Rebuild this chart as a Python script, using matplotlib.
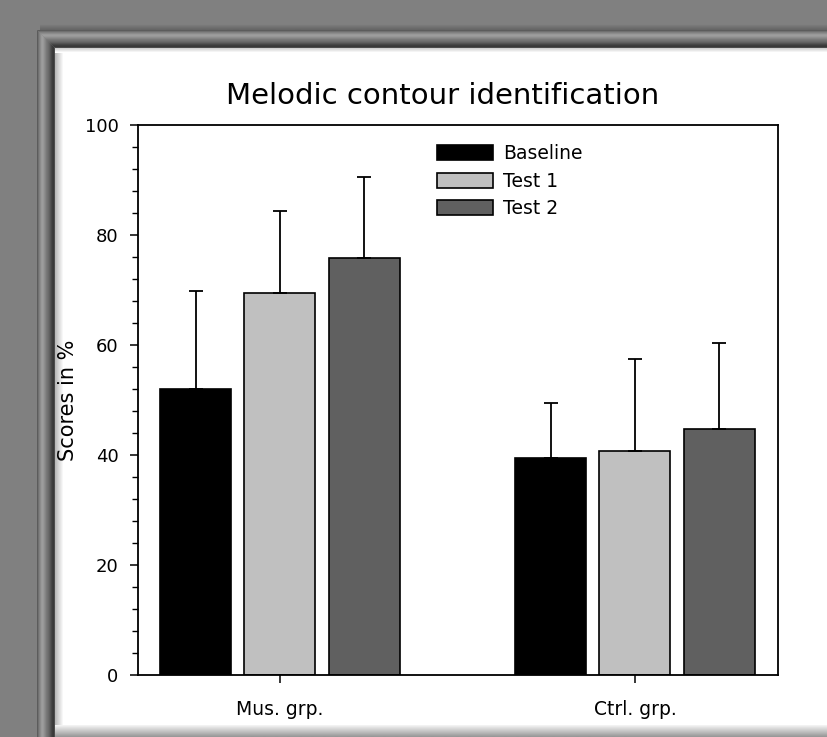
import numpy as np
import matplotlib
matplotlib.use("Agg")
import matplotlib.pyplot as plt
from matplotlib.patches import Polygon, Rectangle
from matplotlib.ticker import MultipleLocator

# ---- data ----
groups = ["Mus. grp.", "Ctrl. grp."]
series = ["Baseline", "Test 1", "Test 2"]
baseline_mean = [52.0, 39.5]
test1_mean = [69.5, 40.8]
test2_mean = [75.9, 44.7]
baseline_sd = [17.8, 10.0]
test1_sd = [14.8, 16.6]
test2_sd = [14.6, 15.6]
colors = ["#000000", "#c0c0c0", "#606060"]
y_ticks = [0, 20, 40, 60, 80, 100]

W, H = 827, 737
fig = plt.figure(figsize=(W / 100, H / 100), dpi=100, facecolor="#808080")

# ---- slide frame drawn in pixel coordinates ----
bg = fig.add_axes([0, 0, 1, 1], zorder=-5)
bg.set_xlim(0, W)
bg.set_ylim(H, 0)
bg.axis("off")
bg.add_patch(Rectangle((0, 0), W, H, color="#808080", zorder=0))

cmap = plt.get_cmap("gray")

# soft drop shadow above the frame
drop = np.linspace(0.5, 0.40, 6)
bg.imshow(drop[:, None], cmap=cmap, vmin=0, vmax=1, aspect="auto",
          extent=(40, W, 30, 24), zorder=1, interpolation="bilinear")

# white panel
bg.add_patch(Rectangle((55, 48), W - 55, 725 - 48, color="white", zorder=1))

bevel = np.array([0.36, 0.44, 0.50, 0.55, 0.60, 0.62, 0.60, 0.56, 0.52,
                  0.48, 0.45, 0.42, 0.38, 0.33, 0.28, 0.24, 0.22, 0.30])

# top band
top_poly = Polygon([(37, 30), (W, 30), (W, 48), (55, 48)], closed=True,
                   facecolor="none", edgecolor="none")
bg.add_patch(top_poly)
im = bg.imshow(bevel[:, None], cmap=cmap, vmin=0, vmax=1, aspect="auto",
               extent=(37, W, 48, 30), zorder=3, interpolation="bilinear")
im.set_clip_path(top_poly)

# left band
left_poly = Polygon([(37, 30), (55, 48), (55, H), (37, H)], closed=True,
                    facecolor="none", edgecolor="none")
bg.add_patch(left_poly)
im2 = bg.imshow(bevel[None, :], cmap=cmap, vmin=0, vmax=1, aspect="auto",
                extent=(37, 55, H, 30), zorder=3, interpolation="bilinear")
im2.set_clip_path(left_poly)

# inner soft shadows on the panel
shade = np.linspace(0.72, 1.0, 9)
bg.imshow(shade[None, :], cmap=cmap, vmin=0, vmax=1, aspect="auto",
          extent=(55, 64, 725, 48), zorder=2, interpolation="bilinear")
shade_top = np.linspace(0.82, 1.0, 5)
bg.imshow(shade_top[:, None], cmap=cmap, vmin=0, vmax=1, aspect="auto",
          extent=(55, W, 53, 48), zorder=2, interpolation="bilinear")

# bottom fade
fade = np.linspace(0.95, 0.60, 12)
bg.imshow(fade[:, None], cmap=cmap, vmin=0, vmax=1, aspect="auto",
          extent=(55, W, H, 725), zorder=2, interpolation="bilinear")

# ---- bar chart ----
ax = fig.add_axes([138 / W, 1 - 675 / H, (778 - 138) / W, (675 - 125) / H])
ax.set_facecolor("white")

x = np.arange(len(groups))
width = 0.2
offset = 0.237
means = [baseline_mean, test1_mean, test2_mean]
sds = [baseline_sd, test1_sd, test2_sd]
for i, (name, m, s, c) in enumerate(zip(series, means, sds, colors)):
    pos = x + (i - 1) * offset
    ax.bar(pos, m, width=width, color=c, edgecolor="black", linewidth=1.2,
           label=name, zorder=2)
    ax.errorbar(pos, m, yerr=[np.zeros(len(m)), s], fmt="none",
                ecolor="black", elinewidth=1.3, capsize=5, capthick=1.3,
                zorder=3)

ax.set_xlim(-0.4, 1.403)
ax.set_ylim(0, 100)
ax.set_yticks(y_ticks)
ax.yaxis.set_minor_locator(MultipleLocator(4))
ax.set_xticks(x)
ax.set_xticklabels(groups, fontsize=13.5)
ax.tick_params(axis="y", which="major", direction="out", length=6,
               width=1.1, labelsize=13, pad=8)
ax.tick_params(axis="y", which="minor", direction="out", length=4, width=1.0)
ax.tick_params(axis="x", which="major", direction="out", length=6,
               width=1.1, pad=12)
for sp in ax.spines.values():
    sp.set_linewidth(1.3)

fig.text(68 / W, 1 - 400 / H, "Scores in %", rotation=90, fontsize=15,
         ha="center", va="center")
fig.text(443 / W, 1 - 104 / H, "Melodic contour identification",
         fontsize=21, ha="center", va="baseline")

ax.legend(loc="upper left", bbox_to_anchor=(0.467, 0.965), frameon=False,
          fontsize=13.5, handlelength=3.0, handleheight=0.85,
          handletextpad=0.55, labelspacing=0.45, borderpad=0,
          borderaxespad=0)

fig.savefig("out.png", dpi=100, facecolor=fig.get_facecolor())
